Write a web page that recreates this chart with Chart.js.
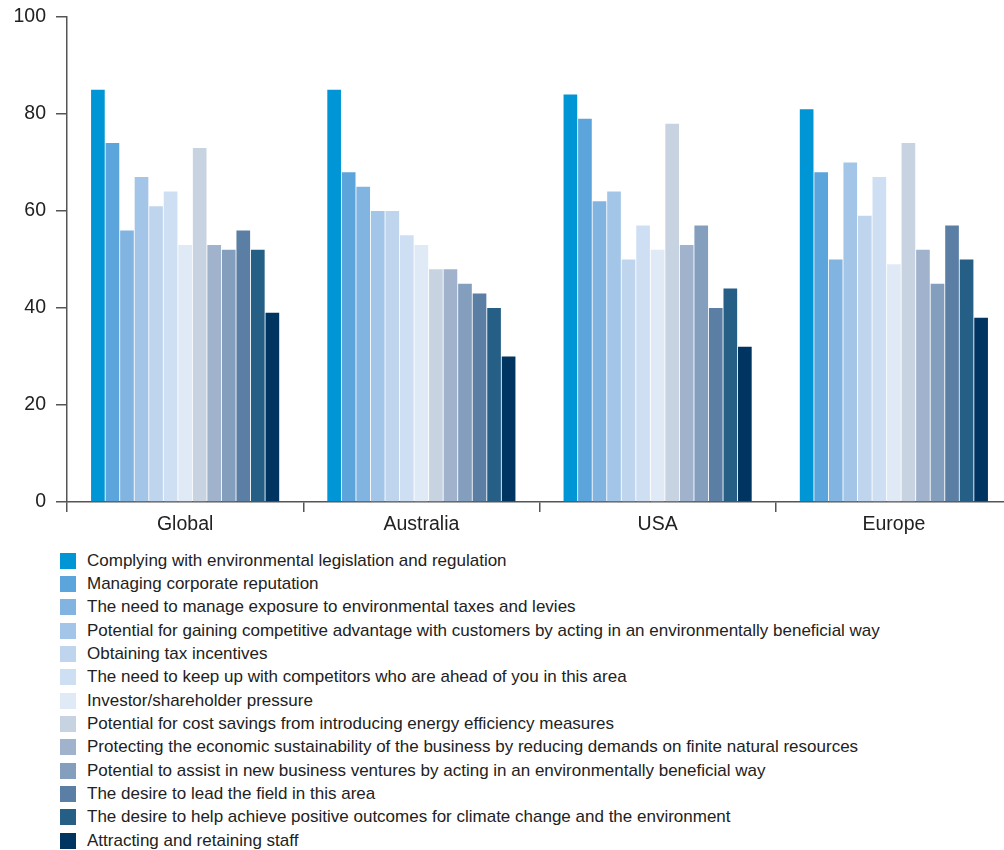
<!DOCTYPE html>
<html>
<head>
<meta charset="utf-8">
<script src="https://cdn.jsdelivr.net/npm/chart.js@4.4.1/dist/chart.umd.min.js"></script>
<style>
  html, body { margin: 0; padding: 0; background: #fff; overflow: hidden; }
  body { width: 1004px; height: 850px; position: relative; font-family: "Liberation Sans", Arial, sans-serif; }
  #wrap { position: absolute; left: 0; top: 0; width: 1012px; height: 540px; }
  #legend { position: absolute; left: 60px; top: 549px; margin: 0; padding: 0; list-style: none; }
  #legend li { height: 23.33px; display: flex; align-items: center; font-size: 17px; color: #222; white-space: nowrap; }
  #legend span.box { display: inline-block; width: 16px; height: 16px; margin-right: 11px; }
</style>
</head>
<body>
<div id="wrap"><canvas id="chart" width="1012" height="540"></canvas></div>
<ul id="legend"></ul>
<script>
// Regions along the x axis
const regions = ["Global", "Australia", "USA", "Europe"];

// Value axis ticks
const yTicks = [0, 20, 40, 60, 80, 100];

// Drivers (one series each) and their values per region
const drivers = [
  "Complying with environmental legislation and regulation",
  "Managing corporate reputation",
  "The need to manage exposure to environmental taxes and levies",
  "Potential for gaining competitive advantage with customers by acting in an environmentally beneficial way",
  "Obtaining tax incentives",
  "The need to keep up with competitors who are ahead of you in this area",
  "Investor/shareholder pressure",
  "Potential for cost savings from introducing energy efficiency measures",
  "Protecting the economic sustainability of the business by reducing demands on finite natural resources",
  "Potential to assist in new business ventures by acting in an environmentally beneficial way",
  "The desire to lead the field in this area",
  "The desire to help achieve positive outcomes for climate change and the environment",
  "Attracting and retaining staff"
];

const legislation    = [85, 85, 84, 81];
const reputation     = [74, 68, 79, 68];
const taxExposure    = [56, 65, 62, 50];
const competitiveAdv = [67, 60, 64, 70];
const taxIncentives  = [61, 60, 50, 59];
const keepUp         = [64, 55, 57, 67];
const investors      = [53, 53, 52, 49];
const costSavings    = [73, 48, 78, 74];
const sustainability = [53, 48, 53, 52];
const newVentures    = [52, 45, 57, 45];
const leadField      = [56, 43, 40, 57];
const climate        = [52, 40, 44, 50];
const staff          = [39, 30, 32, 38];

const seriesValues = [
  legislation, reputation, taxExposure, competitiveAdv, taxIncentives, keepUp,
  investors, costSavings, sustainability, newVentures, leadField, climate, staff
];

const palette = [
  "#0095d5", "#5ba5dc", "#82b4e2", "#a3c5e8", "#bfd5ee", "#cfdff3", "#e0eaf6",
  "#c8d3e1", "#a1b3cc", "#839fbd", "#5b7fa4", "#265f86", "#003461"
];

const axisColor = "#555555";
const textColor = "#222222";
const tickFont = { family: "'Liberation Sans', Arial, sans-serif", size: 19.5 };

// Keep the plot frame fixed: no extra room reserved for overhanging labels
const noOverhang = s => {
  s.paddingTop = 0; s.paddingBottom = 0; s.paddingLeft = 0; s.paddingRight = 0;
};

const chart = new Chart(document.getElementById("chart"), {
  type: "bar",
  data: {
    labels: regions,
    datasets: drivers.map((name, i) => ({
      label: name,
      data: seriesValues[i],
      backgroundColor: palette[i],
      borderWidth: 0,
      categoryPercentage: 0.8,
      barPercentage: 0.94
    }))
  },
  options: {
    responsive: false,
    animation: false,
    layout: { padding: { top: 17, left: 0, right: 0, bottom: 0 } },
    plugins: {
      legend: { display: false },
      tooltip: { enabled: false }
    },
    scales: {
      x: {
        afterFit: s => { s.height = 38; noOverhang(s); },
        grid: {
          offset: true,
          drawOnChartArea: false,
          drawTicks: true,
          tickLength: 10,
          color: axisColor,
          lineWidth: 1.5
        },
        border: { display: true, color: axisColor, width: 1.5 },
        ticks: { color: textColor, padding: 1, font: tickFont }
      },
      y: {
        min: 0,
        max: 100,
        afterFit: s => { s.width = 67; noOverhang(s); },
        afterBuildTicks: s => { s.ticks = yTicks.map(v => ({ value: v })); },
        grid: {
          drawOnChartArea: false,
          drawTicks: true,
          tickLength: 11,
          color: axisColor,
          lineWidth: 1.5
        },
        border: { display: true, color: axisColor, width: 1.5 },
        ticks: { color: textColor, padding: 10, font: tickFont }
      }
    }
  }
});

// Legend list, one driver per row
const legendEl = document.getElementById("legend");
chart.data.datasets.forEach(ds => {
  const li = document.createElement("li");
  const box = document.createElement("span");
  box.className = "box";
  box.style.background = ds.backgroundColor;
  li.appendChild(box);
  li.appendChild(document.createTextNode(ds.label));
  legendEl.appendChild(li);
});
</script>
</body>
</html>
